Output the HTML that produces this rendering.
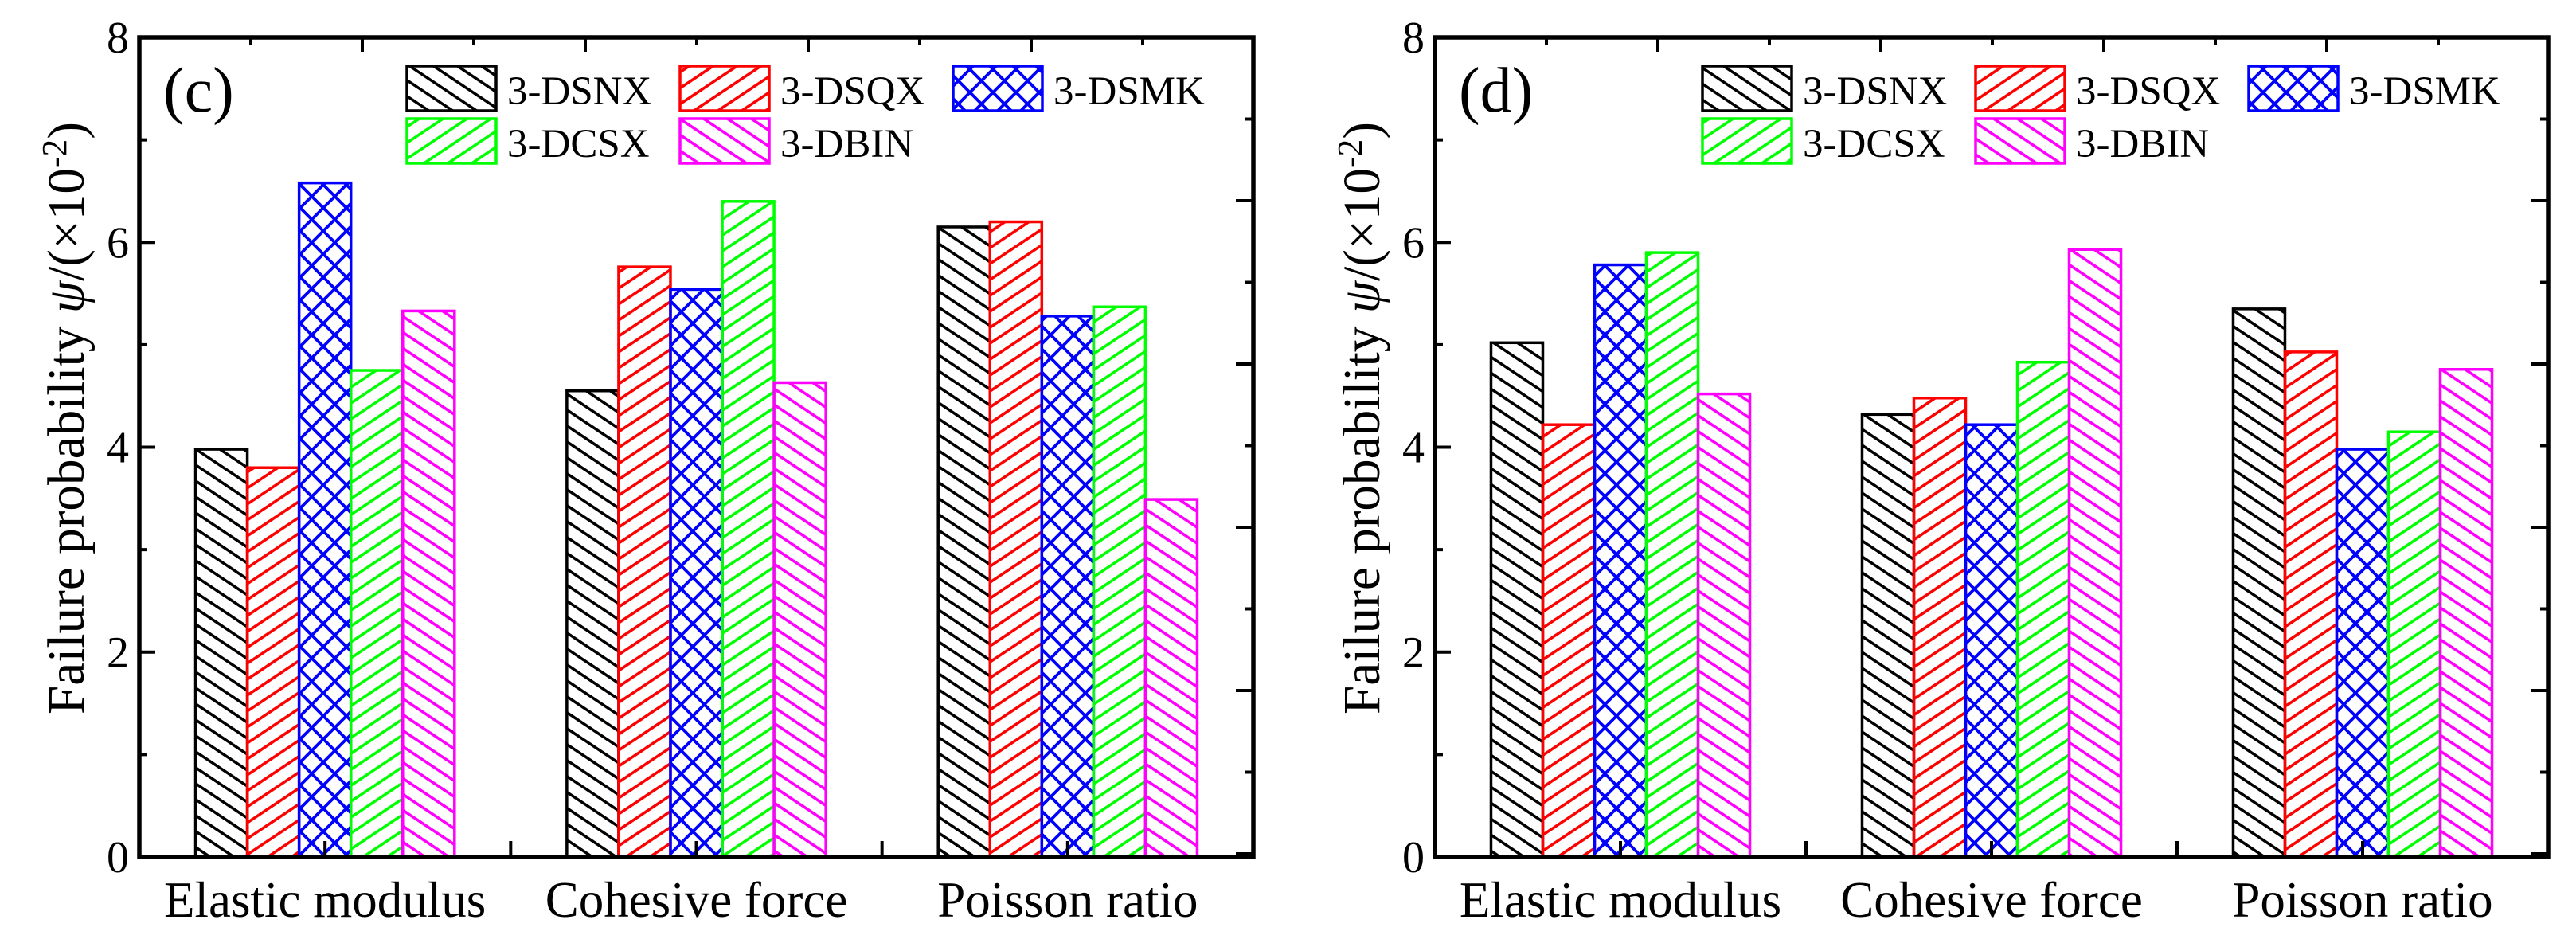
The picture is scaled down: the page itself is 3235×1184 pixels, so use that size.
<!DOCTYPE html>
<html><head><meta charset="utf-8"><style>
html,body{margin:0;padding:0;background:#fff;}
svg{display:block;font-family:"Liberation Serif","Times New Roman",serif;}
</style></head><body>
<svg id="chart" width="3235" height="1184" viewBox="0 0 3235 1184" xmlns="http://www.w3.org/2000/svg">
<defs>
<pattern id="p-back-black" patternUnits="userSpaceOnUse" width="30" height="20"><g stroke="#000" stroke-width="3.5"><line x1="-30" y1="-40" x2="60" y2="20"/><line x1="-30" y1="-20" x2="60" y2="40"/><line x1="-30" y1="0" x2="60" y2="60"/></g></pattern>
<pattern id="p-fwd-red" patternUnits="userSpaceOnUse" width="30" height="20"><g stroke="#ff0000" stroke-width="3.5"><line x1="-30" y1="20" x2="60" y2="-40"/><line x1="-30" y1="40" x2="60" y2="-20"/><line x1="-30" y1="60" x2="60" y2="0"/></g></pattern>
<pattern id="p-cross-blue" patternUnits="userSpaceOnUse" width="29" height="29"><g stroke="#0000ff" stroke-width="3.8"><line x1="-29" y1="-29" x2="58" y2="58"/><line x1="-29" y1="58" x2="58" y2="-29"/></g></pattern>
<pattern id="p-fwd-green" patternUnits="userSpaceOnUse" width="30" height="20"><g stroke="#00ff00" stroke-width="3.5"><line x1="-30" y1="20" x2="60" y2="-40"/><line x1="-30" y1="40" x2="60" y2="-20"/><line x1="-30" y1="60" x2="60" y2="0"/></g></pattern>
<pattern id="p-back-magenta" patternUnits="userSpaceOnUse" width="30" height="20"><g stroke="#ff00ff" stroke-width="3.5"><line x1="-30" y1="-40" x2="60" y2="20"/><line x1="-30" y1="-20" x2="60" y2="40"/><line x1="-30" y1="0" x2="60" y2="60"/></g></pattern>
</defs>
</svg>
<script>
const categories = ["Elastic modulus", "Cohesive force", "Poisson ratio"];
const seriesNames = ["3-DSNX", "3-DSQX", "3-DSMK", "3-DCSX", "3-DBIN"];
const panelC_DSNX = [3.98, 4.55, 6.15];
const panelC_DSQX = [3.80, 5.76, 6.20];
const panelC_DSMK = [6.58, 5.54, 5.28];
const panelC_DCSX = [4.75, 6.40, 5.37];
const panelC_DBIN = [5.33, 4.63, 3.49];
const panelD_DSNX = [5.02, 4.32, 5.35];
const panelD_DSQX = [4.22, 4.48, 4.93];
const panelD_DSMK = [5.78, 4.22, 3.98];
const panelD_DCSX = [5.90, 4.83, 4.15];
const panelD_DBIN = [4.52, 5.93, 4.76];
const yTickLabels = ["0", "2", "4", "6", "8"];
const panelLabels = ["(c)", "(d)"];

const NS = "http://www.w3.org/2000/svg";
const svg = document.getElementById("chart");
const colors = ["#000000", "#ff0000", "#0000ff", "#00ff00", "#ff00ff"];
const fills = ["url(#p-back-black)", "url(#p-fwd-red)", "url(#p-cross-blue)", "url(#p-fwd-green)", "url(#p-back-magenta)"];
function mk(tag, attrs, parent) {
  const e = document.createElementNS(NS, tag);
  for (const k in attrs) e.setAttribute(k, attrs[k]);
  (parent || svg).appendChild(e);
  return e;
}
const Y0 = 1076, Y8 = 47, YMAX = 8;
function yScale(v) { return Y0 - (v / YMAX) * (Y0 - Y8); }

function drawPanel(x0, x1, series, label, key) {
  const g = mk("g", {});
  
  
  const W = x1 - x0, cw = W / categories.length, bw = cw * 0.1395;
  function xCenter(i) { return x0 + cw * (i + 0.5); }
  series.forEach((vals, s) => {
    vals.forEach((v, i) => {
      const bx = xCenter(i) + (s - 2.5) * bw;
      const r = mk("rect", { x: bx, y: yScale(v), width: bw, height: Y0 - yScale(v), fill: fills[s], stroke: colors[s], "stroke-width": 3.5 }, g);
      
      
    });
  });
  const fr = mk("rect", { x: x0, y: Y8, width: W, height: Y0 - Y8, fill: "none", stroke: "#000", "stroke-width": 5.5 }, g);
  
  
  for (let v = 0; v <= 8; v++) {
    const y = yScale(v), L = v % 2 === 0 ? 20 : 10;
    mk("line", { x1: x0, y1: y, x2: x0 + L, y2: y, stroke: "#000", "stroke-width": 4 }, g);
  }
  yTickLabels.forEach((t) => {
    const tx = mk("text", { x: x0 - 13, y: yScale(Number(t)) + 19, "font-size": 56, "text-anchor": "end" }, g);
    tx.textContent = t;
    
    
  });
  for (let k = 0; k <= 10; k++) {
    const y = Y8 + k * 102.5; if (y > Y0) break;
    const L = k % 2 === 0 ? 22 : 10;
    mk("line", { x1: x1, y1: y, x2: x1 - L, y2: y, stroke: "#000", "stroke-width": 4 }, g);
  }
  for (let k = 1; x0 + 140 * k < x1 - 5; k++) {
    const x = x0 + 140 * k, L = k % 2 === 0 ? 18 : 9;
    mk("line", { x1: x, y1: Y8, x2: x, y2: Y8 + L, stroke: "#000", "stroke-width": 4 }, g);
  }
  categories.forEach((c, i) => {
    mk("line", { x1: xCenter(i), y1: Y0, x2: xCenter(i), y2: Y0 - 20, stroke: "#000", "stroke-width": 4 }, g);
    if (i > 0) mk("line", { x1: x0 + cw * i, y1: Y0, x2: x0 + cw * i, y2: Y0 - 20, stroke: "#000", "stroke-width": 4 }, g);
    const t = mk("text", { x: xCenter(i), y: 1151, "font-size": 63, "text-anchor": "middle" }, g);
    t.textContent = c;
    
    
  });
  const yt = mk("text", { x: 0, y: 0, "font-size": 66, "text-anchor": "middle", textLength: 744, lengthAdjust: "spacingAndGlyphs", transform: "translate(" + (x0 - 70) + ",525) rotate(-90)" }, g);
  yt.innerHTML = 'Failure probability <tspan font-style="italic">ψ</tspan>/(×10<tspan dy="-22" font-size="44">-2</tspan><tspan dy="22">)</tspan>';
  
  
  const pl = mk("text", { x: x0 + 30, y: 140, "font-size": 80 }, g);
  pl.textContent = label;
  
  
  const lx = [x0 + 336, x0 + 679, x0 + 1022], ly = [83, 149];
  seriesNames.forEach((n, s) => {
    const col = s < 3 ? s : s - 3, row = s < 3 ? 0 : 1;
    const lg = mk("g", {}, g);
    
    
    mk("rect", { x: lx[col], y: ly[row], width: 112, height: 56, fill: fills[s], stroke: colors[s], "stroke-width": 3.5 }, lg);
    const t = mk("text", { x: lx[col] + 126, y: ly[row] + 48, "font-size": 51 }, lg);
    t.textContent = n;
  });
}
drawPanel(175, 1574, [panelC_DSNX, panelC_DSQX, panelC_DSMK, panelC_DCSX, panelC_DBIN], panelLabels[0], "c");
drawPanel(1802, 3200, [panelD_DSNX, panelD_DSQX, panelD_DSMK, panelD_DCSX, panelD_DBIN], panelLabels[1], "d");
</script>
</body></html>
